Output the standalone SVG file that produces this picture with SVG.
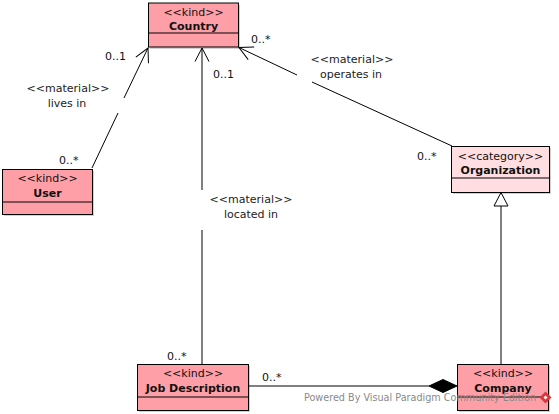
<svg xmlns="http://www.w3.org/2000/svg" width="559" height="414" viewBox="0 0 559 414">
<style>
text{font-family:"DejaVu Sans","Liberation Sans",sans-serif;font-size:11px;fill:#111}
.st{text-anchor:middle}
.nm{text-anchor:middle;font-weight:bold}
.kind{fill:#FE9FA7;stroke:#000;stroke-width:1}
.cat{fill:#FFDDE0;stroke:#000;stroke-width:1}
.sh{fill:#000;opacity:0.18}
.dv{stroke:#000;stroke-width:1}
.ln{stroke:#000;stroke-width:1;fill:none}
.lbl{text-anchor:middle;fill:#222}
.wm{fill:#8a8a8a;font-size:10.5px}
</style>
<defs>
<marker id="open" markerUnits="userSpaceOnUse" markerWidth="20" markerHeight="20" viewBox="-15 -10 20 20" refX="0" refY="0" orient="auto">
<path d="M-13.5,-7 L0,0 L-13.5,7" fill="none" stroke="#000" stroke-width="1"/>
</marker>
</defs>
<g id="connectors">
<path class="ln" d="M92,168 L118,113"/>
<path class="ln" d="M124,98 L148,48" marker-end="url(#open)"/>
<path class="ln" d="M202,364 L202,230"/>
<path class="ln" d="M202,190 L202,48" marker-end="url(#open)"/>
<path class="ln" d="M452,146 L312,82"/>
<path class="ln" d="M297,75 L239,47.5" marker-end="url(#open)"/>
<path class="ln" d="M501,364 L501,206"/>
<path d="M501,192.5 L508,206 L494,206 Z" fill="#fff" stroke="#000" stroke-width="1"/>
<path class="ln" d="M248,386 L429,386"/>
<path d="M429,386 L443,379.5 L457,386 L443,392.5 Z" fill="#000" stroke="#000" stroke-width="1"/>
<text class="lbl" x="68" y="92">&lt;&lt;material&gt;&gt;</text>
<text class="lbl" x="67" y="107">lives in</text>
<text x="105" y="60">0..1</text>
<text x="59" y="164">0..*</text>
<text class="lbl" x="251" y="203">&lt;&lt;material&gt;&gt;</text>
<text class="lbl" x="251" y="218">located in</text>
<text x="213" y="78">0..1</text>
<text x="167" y="360">0..*</text>
<text class="lbl" x="352" y="63">&lt;&lt;material&gt;&gt;</text>
<text class="lbl" x="351" y="78">operates in</text>
<text x="251" y="43">0..*</text>
<text x="417" y="160">0..*</text>
<text x="262" y="381">0..*</text>
</g>
<g id="country">
<rect class="sh" x="150" y="5" width="90" height="44"/>
<rect class="kind" x="148.5" y="3" width="90" height="44"/>
<line class="dv" x1="148.5" y1="33" x2="238.5" y2="33"/>
<text class="st" x="193.5" y="16">&lt;&lt;kind&gt;&gt;</text>
<text class="nm" x="193.5" y="30">Country</text>
</g>
<g id="user">
<rect class="sh" x="4" y="171" width="90" height="45"/>
<rect class="kind" x="2.5" y="169.5" width="90" height="45"/>
<line class="dv" x1="2.5" y1="202" x2="92.5" y2="202"/>
<text class="st" x="47.5" y="182">&lt;&lt;kind&gt;&gt;</text>
<text class="nm" x="47.5" y="197">User</text>
</g>
<g id="organization">
<rect class="sh" x="453" y="148" width="98" height="46"/>
<rect class="cat" x="451.5" y="146.5" width="98" height="46"/>
<line class="dv" x1="451.5" y1="178" x2="549.5" y2="178"/>
<text class="st" x="500.5" y="160">&lt;&lt;category&gt;&gt;</text>
<text class="nm" x="500.5" y="174">Organization</text>
</g>
<g id="job-description">
<rect class="sh" x="139" y="366" width="111" height="46"/>
<rect class="kind" x="137.5" y="364.5" width="111" height="46"/>
<line class="dv" x1="137.5" y1="397" x2="248.5" y2="397"/>
<text class="st" x="193" y="377">&lt;&lt;kind&gt;&gt;</text>
<text class="nm" x="193" y="392">Job Description</text>
</g>
<g id="company">
<rect class="sh" x="459" y="366" width="91" height="46"/>
<rect class="kind" x="457.5" y="364.5" width="91" height="46"/>
<line class="dv" x1="457.5" y1="397" x2="548.5" y2="397"/>
<text class="st" x="503" y="377">&lt;&lt;kind&gt;&gt;</text>
<text class="nm" x="503" y="392">Company</text>
</g>
<g id="watermark">
<text class="wm" x="304" y="401" textLength="232" lengthAdjust="spacingAndGlyphs">Powered By Visual Paradigm Community Edition</text>
<path d="M545.5,391.5 L551.5,397.5 L545.5,403.5 L539.5,397.5 Z" fill="#d9363e"/>
<path d="M543.5,397.5 L545.5,395.5 L547.5,397.5 L545.5,399.5 Z" fill="#fff"/>
</g>
</svg>
